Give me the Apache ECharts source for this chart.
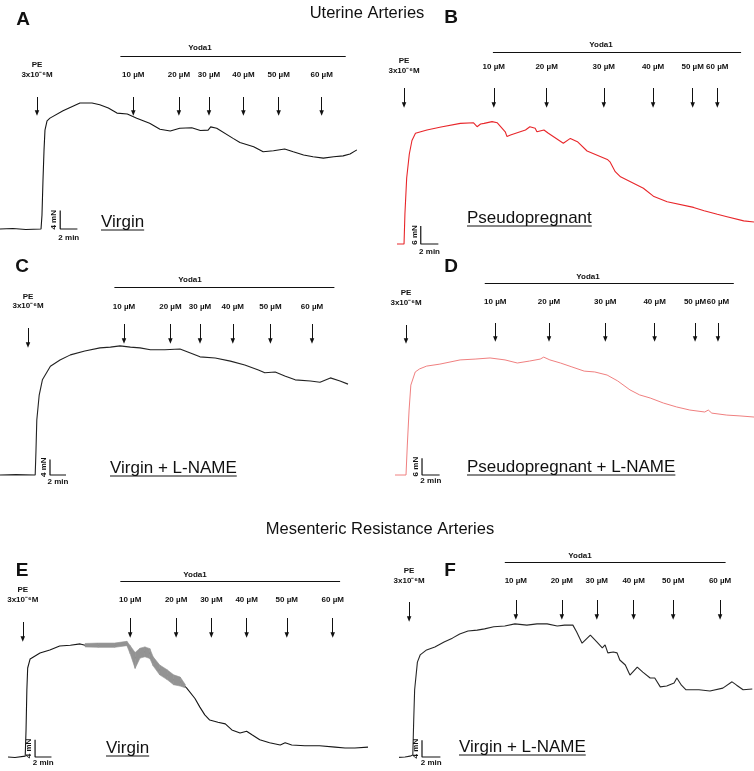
<!DOCTYPE html>
<html><head><meta charset="utf-8">
<script src="https://cdn.jsdelivr.net/npm/echarts@6/dist/echarts.min.js"></script>
<style>html,body{margin:0;padding:0;background:#fff}#c{width:754px;height:771px}</style>
</head><body><div id="c"></div>
<script>
// ---------- DATA (time in min, force in mN) ----------
const doseLabels = ['10 µM', '20 µM', '30 µM', '40 µM', '50 µM', '60 µM'];
const peLabel = 'PE';
const peConc = '3x10⁻⁶M';
const yodaLabel = 'Yoda1';
const titles = ['Uterine Arteries', 'Mesenteric Resistance Arteries'];
const conditionLabels = ['Virgin', 'Pseudopregnant', 'Virgin + L-NAME', 'Pseudopregnant + L-NAME', 'Virgin', 'Virgin + L-NAME'];
const panelLetters = ['A', 'B', 'C', 'D', 'E', 'F'];
const scaleForce = [4, 6, 4, 6, 4, 4];   // mN
const scaleTime = 2;                     // min

const traceA = [[0,0],[1.5,0.1],[3.0,-0.1],[4.77,0],[4.88,3.0],[5.0,10.7],[5.12,17.2],[5.23,21.5],[5.47,23.5],[5.81,24.1],[7.33,25.7],[9.3,27.4],[10.7,27.4],[11.6,27.0],[12.6,26.3],[13.6,25.2],[14.8,25.0],[15.9,24.1],[17.4,23.0],[18.6,21.7],[19.8,21.3],[20.9,21.9],[22.3,22.0],[23.3,21.4],[24.2,21.5],[24.5,22.2],[25.2,21.9],[27.1,19.7],[27.9,18.8],[29.5,17.9],[30.6,16.8],[31.8,17.0],[33.1,17.4],[34.1,16.8],[35.3,16.1],[36.4,15.7],[37.6,15.4],[38.8,15.7],[39.9,15.9],[40.7,16.3],[41.5,17.2]];
const peTimeA = 4.3;
const doseTimesA = [15.5, 20.8, 24.3, 28.3, 32.4, 37.4];
const yodaSpanA = [14.0, 40.2];

const traceB = [[0,0],[0.5,0],[0.8,0],[0.9,10],[1.1,22],[1.4,30],[1.7,34.5],[2.1,36.9],[3.4,38.0],[5.0,39.0],[7.2,40.2],[8.7,40.4],[9.1,39.1],[9.5,40.0],[9.9,40.2],[10.8,40.8],[11.4,40.4],[12.3,37.4],[12.5,35.8],[12.9,36.3],[14.0,37.4],[14.6,38.0],[15.1,39.1],[15.7,38.6],[15.9,37.4],[16.7,38.0],[17.2,36.9],[18.9,33.6],[19.7,35.2],[20.5,34.1],[21.6,31.0],[23.9,28.2],[24.2,27.4],[24.8,24.1],[25.4,22.4],[28.0,18.6],[29.2,15.8],[30.7,14.1],[33.7,12.2],[34.9,11.1],[36.4,9.9],[37.5,9.1],[39.4,7.7],[40.6,7.3]];
const peTimeB = 0.8;
const doseTimesB = [11.0, 17.0, 23.5, 29.1, 33.6, 36.4];
const yodaSpanB = [10.9, 39.1];

const traceC = [[0,0],[2.0,0.1],[4.4,0],[4.5,6.4],[4.6,14.1],[4.9,20.5],[5.3,24.4],[6.3,27.9],[7.5,29.5],[8.8,30.8],[10.6,31.8],[12.5,32.6],[13.8,32.8],[15.0,33.1],[16.3,32.8],[17.5,32.6],[18.8,32.1],[20.6,32.1],[22.5,32.3],[23.8,31.3],[25.0,30.3],[26.9,30.0],[28.8,29.2],[30.6,28.2],[32.3,26.9],[33.1,26.2],[34.4,26.4],[35.6,25.4],[36.9,24.4],[38.8,24.1],[40.0,23.8],[41.3,24.9],[42.5,24.1],[43.5,23.3]];
const peTimeC = 3.5;
const doseTimesC = [15.5, 21.3, 25.0, 29.1, 33.8, 39.0];
const yodaSpanC = [14.3, 41.8];

const traceD = [[0,0],[1.25,0],[1.4,10.7],[1.6,23.2],[1.8,32.1],[2.3,36.8],[2.8,37.9],[3.6,38.9],[5.1,39.6],[7.4,41.1],[9.1,41.4],[10.8,41.8],[12.5,41.1],[13.9,40.0],[15.3,40.7],[16.5,41.4],[16.9,42.1],[17.6,41.1],[18.8,40.0],[20.1,38.6],[21.5,37.1],[22.7,36.8],[24.1,35.7],[25.3,33.6],[26.7,30.4],[27.8,28.6],[29.0,27.5],[30.5,25.7],[32.0,24.3],[33.5,23.2],[35.2,22.5],[35.6,23.2],[36.0,22.1],[37.7,21.4],[39.2,21.1],[40.8,20.7]];
const peTimeD = 1.25;
const doseTimesD = [11.4, 17.5, 23.9, 29.5, 34.1, 36.7];
const yodaSpanD = [10.2, 38.5];

const traceE = [[0,0],[0.85,-0.1],[2.1,0.2],[2.2,6.3],[2.3,15.6],[2.4,20.7],[2.7,22.8],[3.9,24.2],[5.1,24.9],[6.3,25.8],[7.6,26.0],[8.8,26.3],[9.4,26.0],[10.6,26.0],[11.8,26.0],[13.0,26.0],[14.5,26.4],[14.9,24.9],[15.5,23.0],[16.1,24.2],[16.7,24.5],[17.3,24.1],[17.7,22.2],[18.5,20.2],[19.4,19.1],[20.2,17.9],[21.0,17.5],[21.8,16.0],[22.8,13.6],[23.4,11.6],[24.0,9.8],[24.6,8.6],[25.6,8.1],[26.5,7.7],[27.3,6.3],[28.3,5.6],[29.1,6.0],[29.8,5.1],[30.7,4.0],[31.9,3.3],[33.2,2.8],[33.8,3.3],[34.6,2.8],[36.2,2.6],[38.0,2.6],[39.9,2.3],[41.1,2.1],[42.3,2.1],[43.9,2.3]];
// oscillation envelope in E: [time, low, high]
const bandE = [[9.4,25.6,26.4],[11.0,25.5,26.5],[13.0,25.5,26.5],[14.5,25.9,26.9],[14.9,24.0,25.9],[15.5,20.6,24.3],[16.1,23.0,25.3],[16.7,23.3,25.6],[17.3,22.9,25.2],[17.7,21.2,23.3],[18.5,19.1,21.4],[19.4,18.0,20.3],[20.2,16.8,19.1],[21.0,16.5,18.6],[21.6,16.1,16.9]];
const peTimeE = 1.8;
const doseTimesE = [14.9, 20.5, 24.8, 29.1, 34.0, 39.6];
const yodaSpanE = [13.7, 40.5];

const traceF = [[0,-0.1],[0.65,0],[1.2,0.2],[1.5,0.5],[1.6,8.8],[1.7,16.0],[2.0,22.6],[2.3,24.3],[3.0,25.5],[3.9,26.2],[4.9,27.4],[5.8,28.3],[6.6,29.3],[7.5,30.0],[8.5,30.2],[9.3,30.5],[10.3,31.0],[11.5,31.2],[12.6,31.7],[13.9,31.4],[15.0,31.7],[16.1,31.7],[17.2,31.2],[18.0,31.4],[18.9,31.4],[19.3,29.8],[19.5,30.2],[19.9,27.1],[20.8,29.0],[21.5,27.4],[22.1,26.0],[22.4,26.7],[22.7,24.8],[23.3,25.0],[23.7,24.8],[24.0,23.1],[24.6,21.9],[25.1,19.5],[25.9,21.4],[26.5,20.2],[27.3,18.8],[27.8,18.8],[28.4,16.7],[29.1,16.9],[29.9,17.6],[30.2,18.8],[30.7,17.1],[31.2,16.0],[32.6,16.0],[33.8,15.7],[35.2,16.4],[36.2,17.9],[36.7,17.1],[37.4,16.0],[38.4,16.2]];
const peTimeF = 1.1;
const doseTimesF = [12.7, 17.7, 21.5, 25.5, 29.8, 34.9];
const yodaSpanF = [11.5, 35.5];

// ---------- LAYOUT (pixels) ----------
const layouts = [
  {x0:0,  y0:229,kx:8.6,ky:4.6,left:0,  right:377,top:36, bottom:252,yodaX:200,yodaTextY:48, barY:56, peY:65, concY:75, doseY:75, arrowTop:97, arrowBot:113,peDy:0,scaleT:7.0, condX:101,condY:222,letterX:23, letterY:20, minDy:9, color:'#161616',lw:1.1},
  {x0:397,y0:244,kx:8.8,ky:3.0,left:377,right:754,top:30, bottom:256,yodaX:601,yodaTextY:45, barY:52, peY:61, concY:71, doseY:67, arrowTop:88, arrowBot:105,peDy:0,scaleT:2.7, condX:467,condY:218,letterX:451,letterY:18, minDy:8, color:'#e8262a',lw:1.1},
  {x0:0,  y0:475,kx:8.0,ky:3.9,left:0,  right:377,top:265,bottom:495,yodaX:190,yodaTextY:280,barY:287,peY:297,concY:306,doseY:307,arrowTop:324,arrowBot:341,peDy:4,scaleT:6.25,condX:110,condY:468,letterX:22, letterY:267,minDy:7, color:'#222',lw:1.1},
  {x0:395,y0:475,kx:8.8,ky:2.8,left:377,right:754,top:262,bottom:495,yodaX:588,yodaTextY:277,barY:283,peY:293,concY:303,doseY:302,arrowTop:323,arrowBot:339,peDy:2,scaleT:3.07,condX:467,condY:467,letterX:451,letterY:267,minDy:6, color:'#f08080',lw:1.0},
  {x0:8,  y0:757,kx:8.2,ky:4.3,left:0,  right:377,top:560,bottom:771,yodaX:195,yodaTextY:575,barY:581,peY:590,concY:600,doseY:600,arrowTop:618,arrowBot:635,peDy:4,scaleT:3.3, condX:106,condY:748,letterX:22, letterY:571,minDy:6, color:'#161616',lw:1.1},
  {x0:399,y0:757,kx:9.2,ky:4.2,left:377,right:754,top:540,bottom:771,yodaX:580,yodaTextY:556,barY:562,peY:571,concY:581,doseY:581,arrowTop:600,arrowBot:617,peDy:2,scaleT:2.5, condX:459,condY:747,letterX:450,letterY:571,minDy:6, color:'#262626',lw:1.1}
];

const panels = [
  {trace:traceA, pe:peTimeA, doses:doseTimesA, yoda:yodaSpanA},
  {trace:traceB, pe:peTimeB, doses:doseTimesB, yoda:yodaSpanB},
  {trace:traceC, pe:peTimeC, doses:doseTimesC, yoda:yodaSpanC},
  {trace:traceD, pe:peTimeD, doses:doseTimesD, yoda:yodaSpanD},
  {trace:traceE, pe:peTimeE, doses:doseTimesE, yoda:yodaSpanE, band:bandE},
  {trace:traceF, pe:peTimeF, doses:doseTimesF, yoda:yodaSpanF}
];

const FAM = "'Liberation Sans', Arial, Helvetica, sans-serif";
const chart = echarts.init(document.getElementById('c'), null, {renderer:'canvas'});
const grids = [], xAxes = [], yAxes = [], series = [];

panels.forEach((p, i) => {
  const L = layouts[i];
  const toF = y => (L.y0 - y) / L.ky;
  grids.push({left:L.left, top:L.top, width:L.right - L.left, height:L.bottom - L.top, containLabel:false, show:false});
  xAxes.push({type:'value', gridIndex:i, min:(L.left - L.x0) / L.kx, max:(L.right - L.x0) / L.kx, show:false, splitLine:{show:false}});
  yAxes.push({type:'value', gridIndex:i, min:toF(L.bottom), max:toF(L.top), show:false, splitLine:{show:false}});
  const marks = [[p.pe, L.peDy]].concat(p.doses.map(t => [t, 0])).map(([t, dy]) => [
    {coord:[t, toF(L.arrowTop + dy)], symbol:'none'},
    {coord:[t, toF(L.arrowBot + dy)], symbol:'triangle', symbolSize:[4.5, 5.5]}
  ]);
  marks.push([{coord:[p.yoda[0], toF(L.barY)], symbol:'none'}, {coord:[p.yoda[1], toF(L.barY)], symbol:'none'}]);
  series.push({
    type:'line', xAxisIndex:i, yAxisIndex:i, data:p.trace, symbol:'none', showSymbol:false,
    lineStyle:{color:L.color, width:L.lw}, clip:false, z:3, silent:true, animation:false,
    markLine:{silent:true, animation:false, symbol:['none','none'], label:{show:false},
      lineStyle:{color:'#111', width:1, type:'solid'}, itemStyle:{color:'#111'},
      emphasis:{disabled:true}, data:marks}
  });
  series.push({
    type:'line', xAxisIndex:i, yAxisIndex:i, symbol:'none', clip:false, silent:true, animation:false,
    data:[[L.scaleT, scaleForce[i]], [L.scaleT, 0], [L.scaleT + scaleTime, 0]],
    lineStyle:{color:'#111', width:1.2}, z:3
  });
  if (p.band) {
    const segs = p.band.slice(0, -1).map((b, k) => [b[0], b[1], b[2], p.band[k + 1][0], p.band[k + 1][1], p.band[k + 1][2]]);
    series.push({
      type:'custom', xAxisIndex:i, yAxisIndex:i, silent:true, animation:false, clip:false, z:4,
      data:segs, encode:{x:[0, 3], y:[1, 2, 4, 5]},
      renderItem:(params, api) => {
        const a = api.coord([api.value(0), api.value(1)]);
        const b = api.coord([api.value(0), api.value(2)]);
        const c = api.coord([api.value(3), api.value(5)]);
        const d = api.coord([api.value(3), api.value(4)]);
        return {type:'polygon', shape:{points:[a, b, c, d]}, style:{fill:'#939393', stroke:'#939393', lineWidth:0.6}};
      }
    });
  }
});

chart.setOption({animation:false, backgroundColor:'#fff', grid:grids, xAxis:xAxes, yAxis:yAxes, series:series});

function txt(s, x, y, font, align, va, rot, color) {
  const c = color || '#111';
  return {type:'text', x:x, y:y, rotation:rot || 0, silent:true, z:10,
    style:{text:s, font:font, fill:c, textFill:c, align:align, verticalAlign:va, textAlign:align, textVerticalAlign:va}};
}
const measure = (() => { const cv = document.createElement('canvas').getContext('2d');
  return (s, font) => { cv.font = font; return cv.measureText(s).width; }; })();

const g = [];
const titleFont = '16.5px ' + FAM;
g.push(txt(titles[0], 367, 13, titleFont, 'center', 'middle'));
g.push(txt(titles[1], 380, 529, titleFont, 'center', 'middle'));
const smallBold = 'bold 8px ' + FAM;
const condFont = '17px ' + FAM;

panels.forEach((p, i) => {
  const L = layouts[i];
  const px = t => chart.convertToPixel({gridIndex:i}, [t, 0])[0];
  g.push(txt(panelLetters[i], L.letterX, L.letterY, 'bold 19px ' + FAM, 'center', 'middle'));
  g.push(txt(yodaLabel, L.yodaX, L.yodaTextY, smallBold, 'center', 'middle'));
  g.push(txt(peLabel, px(p.pe), L.peY, smallBold, 'center', 'middle'));
  g.push(txt(peConc, px(p.pe), L.concY, smallBold, 'center', 'middle'));
  p.doses.forEach((t, k) => g.push(txt(doseLabels[k], px(t), L.doseY, smallBold, 'center', 'middle')));
  const sx = px(L.scaleT), sx2 = px(L.scaleT + scaleTime);
  const fy = chart.convertToPixel({gridIndex:i}, [0, scaleForce[i] / 2])[1];
  g.push(txt(scaleForce[i] + ' mN', sx - 6, fy, smallBold, 'center', 'middle', Math.PI / 2));
  g.push(txt(scaleTime + ' min', (sx + sx2) / 2, L.y0 + L.minDy, smallBold, 'center', 'middle'));
  const w = measure(conditionLabels[i], condFont);
  g.push(txt(conditionLabels[i], L.condX, L.condY, condFont, 'left', 'middle'));
  g.push({type:'line', silent:true, z:10, shape:{x1:L.condX, y1:L.condY + 8, x2:L.condX + w, y2:L.condY + 8}, style:{stroke:'#111', lineWidth:1.2}});
});
chart.setOption({graphic:{elements:g}});
</script></body></html>
